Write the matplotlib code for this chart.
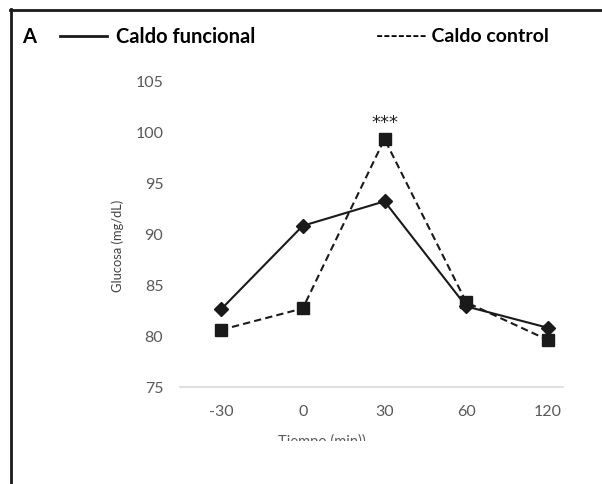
import matplotlib.pyplot as plt
from matplotlib.lines import Line2D
from matplotlib.transforms import Bbox

plt.rcParams['font.family'] = ['Lato', 'DejaVu Sans']

tiempos = ['-30', '0', '30', '60', '120']
funcional = [82.6, 90.8, 93.2, 82.9, 80.8]
control = [80.6, 82.7, 99.3, 83.3, 79.6]

fig = plt.figure(figsize=(6.02, 4.85), dpi=100)
ax = fig.add_axes([0.299, 0.2, 0.636, 0.631])

x = list(range(len(tiempos)))
ax.plot(x, funcional, color='#1a1a1a', lw=1.5, marker='D', ms=7)
ax.plot(x, control, color='#1a1a1a', lw=1.5, ls=(0, (3.5, 2)), marker='s', ms=8)

ax.set_xlim(-0.5, 4.18)
ax.set_ylim(75, 105)
ax.set_yticks([75, 80, 85, 90, 95, 100, 105])
ax.set_xticks(x)
ax.set_xticklabels(tiempos)
ax.tick_params(length=0, labelsize=11.5, colors='#595959', pad=12)
for s in ['top', 'right', 'left']:
    ax.spines[s].set_visible(False)
ax.spines['bottom'].set_color('#d9d9d9')
ax.spines['bottom'].set_linewidth(1.2)

ax.text(2, 99.3 + 0.8, '***', ha='center', va='bottom', fontsize=13,
        family='DejaVu Sans', color='#222222')

fig.text(118 / 602, 1 - 246 / 485, 'Glucosa (mg/dL)', rotation=90, ha='center', va='center',
         fontsize=9.3, color='#404040')

# etiqueta del eje x recortada como en la figura original
xl = fig.text(322 / 602, 1 - 441 / 485, 'Tiempo (min))', ha='center', va='center',
              fontsize=10.5, color='#595959')
xl.set_clip_box(Bbox.from_extents(0, 485 - 442, 602, 485))
xl.set_clip_on(True)

# marco
fig.add_artist(Line2D([11 / 602, 11 / 602], [0, 1 - 10 / 485], color='#1a1a1a', lw=2))
fig.add_artist(Line2D([10 / 602, 1], [1 - 11 / 485, 1 - 11 / 485], color='#1a1a1a', lw=2))

fig.text(22 / 602, 1 - 37 / 485, 'A', fontsize=14.5, fontweight='bold', va='center')
fig.add_artist(Line2D([60 / 602, 107 / 602], [1 - 37 / 485, 1 - 37 / 485], color='#1a1a1a', lw=2))
fig.text(116 / 602, 1 - 37 / 485, 'Caldo funcional', fontsize=14.5, fontweight='bold', va='center')
fig.text(376 / 602, 1 - 37 / 485, '------- Caldo control', fontsize=14, fontweight='bold', va='center')

plt.savefig('out.png', dpi=100)
